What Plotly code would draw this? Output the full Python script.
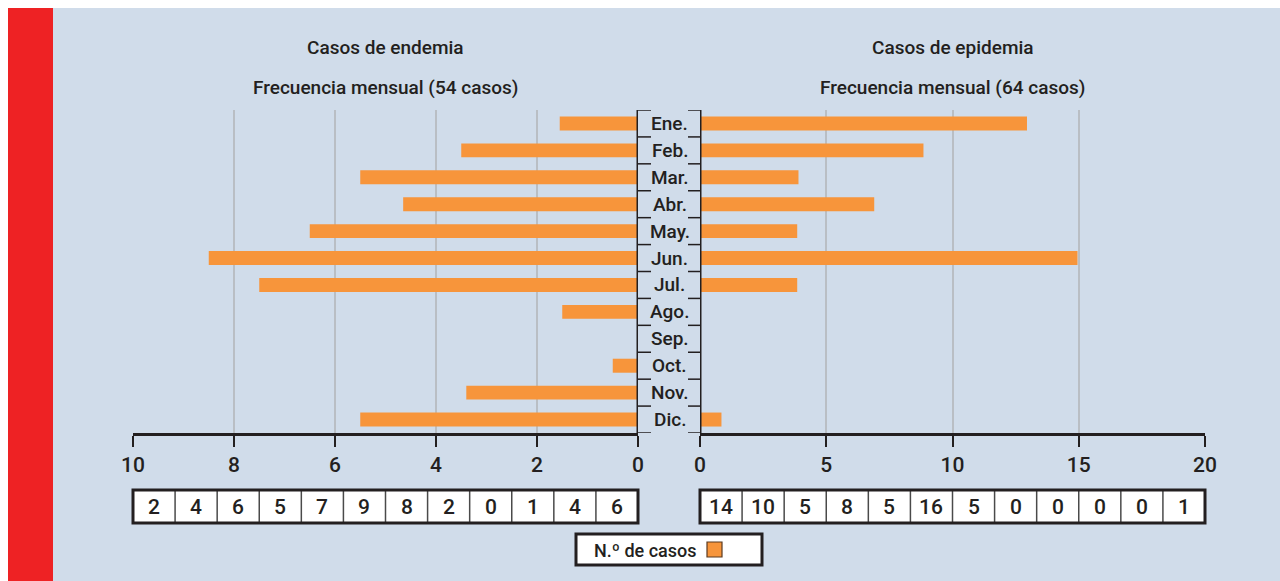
import plotly.graph_objects as go

months = ["Ene.", "Feb.", "Mar.", "Abr.", "May.", "Jun.", "Jul.", "Ago.", "Sep.", "Oct.", "Nov.", "Dic."]
endemia_bars = [1.55, 3.5, 5.5, 4.65, 6.5, 8.5, 7.5, 1.5, 0, 0.5, 3.4, 5.5]
epidemia_bars = [12.95, 8.85, 3.9, 6.9, 3.85, 14.95, 3.85, 0, 0, 0, 0, 0.85]
endemia_table = [2, 4, 6, 5, 7, 9, 8, 2, 0, 1, 4, 6]
epidemia_table = [14, 10, 5, 8, 5, 16, 5, 0, 0, 0, 0, 1]
left_ticks = [0, 2, 4, 6, 8, 10]
right_ticks = [0, 5, 10, 15, 20]
title_left = ["Casos de endemia", "Frecuencia mensual (54 casos)"]
title_right = ["Casos de epidemia", "Frecuencia mensual (64 casos)"]
legend_text = "N.º de casos"

W, H = 1280, 581
ORANGE = "#F7953B"
BG = "#D0DCEA"
RED = "#EE2224"
INK = "#231F20"
GRID = "#B9BEC4"
FONT = "Roboto, sans-serif"
FW = 500


def px(x):
    return x / W


def py(y):
    return 1 - y / H


def f(size):
    return dict(family=FONT, size=size, color=INK, weight=FW)


fig = go.Figure()
fig.add_trace(go.Bar(y=months, x=endemia_bars, orientation="h", marker=dict(color=ORANGE, line=dict(width=0)),
                     xaxis="x", yaxis="y", showlegend=False, hoverinfo="x+y"))
fig.add_trace(go.Bar(y=months, x=epidemia_bars, orientation="h", marker=dict(color=ORANGE, line=dict(width=0)),
                     xaxis="x2", yaxis="y2", showlegend=False, hoverinfo="x+y"))

ydom = [py(433), py(110)]
axis_common = dict(showline=True, linecolor=INK, linewidth=3, ticks="outside", ticklen=11, tickwidth=2,
                   tickcolor=INK, showgrid=True, gridcolor=GRID, gridwidth=1.5, zeroline=False,
                   tickfont=f(21), fixedrange=True, automargin=False)

shapes = [
    dict(type="rect", xref="paper", yref="paper", x0=px(53), x1=1, y0=0, y1=py(8), fillcolor=BG, line_width=0, layer="below"),
    dict(type="rect", xref="paper", yref="paper", x0=px(8), x1=px(53), y0=0, y1=py(8), fillcolor=RED, line_width=0, layer="below"),
]

# center vertical lines with ticks at row boundaries
for xr in ("x", "x2"):
    shapes.append(dict(type="line", xref=xr, yref="y", x0=0, x1=0, y0=-0.5, y1=len(months) - 0.5,
                       line=dict(color=INK, width=3)))
for k in range(len(months) + 1):
    yv = k - 0.5
    shapes.append(dict(type="line", xref="paper", yref="y", x0=px(638), x1=px(651), y0=yv, y1=yv,
                       line=dict(color=INK, width=1.5)))
    shapes.append(dict(type="line", xref="paper", yref="y", x0=px(688), x1=px(700), y0=yv, y1=yv,
                       line=dict(color=INK, width=1.5)))

annotations = []
for m in months:
    annotations.append(dict(xref="paper", yref="y", x=px(669.5), y=m, text=m, showarrow=False,
                            font=f(19), xanchor="center", yanchor="middle"))

# titles
for xr, lines in (("x domain", title_left), ("x2 domain", title_right)):
    for yy, t in zip((48, 87), lines):
        annotations.append(dict(xref=xr, yref="paper", x=0.5, y=py(yy), text=t, showarrow=False,
                                font=f(19), xanchor="center", yanchor="middle"))

# tables
t_y0, t_y1 = py(523), py(490)
for xr, vals in (("x domain", endemia_table), ("x2 domain", epidemia_table)):
    n = len(vals)
    shapes.append(dict(type="rect", xref=xr, yref="paper", x0=0, x1=1, y0=t_y0, y1=t_y1,
                       fillcolor="white", line=dict(width=0), layer="above"))
    for i in range(1, n):
        shapes.append(dict(type="line", xref=xr, yref="paper", x0=i / n, x1=i / n, y0=t_y0, y1=t_y1,
                           line=dict(color="#4A4A4A", width=1.5)))
    shapes.append(dict(type="rect", xref=xr, yref="paper", x0=0, x1=1, y0=t_y0, y1=t_y1,
                       fillcolor="rgba(0,0,0,0)", line=dict(color=INK, width=3)))
    for i, v in enumerate(vals):
        annotations.append(dict(xref=xr, yref="paper", x=(i + 0.5) / n, y=(t_y0 + t_y1) / 2, text=str(v),
                                showarrow=False, font=f(21), xanchor="center", yanchor="middle"))

# legend box
shapes.append(dict(type="rect", xref="paper", yref="paper", x0=px(576), x1=px(762), y0=py(565), y1=py(534),
                   fillcolor="white", line=dict(color=INK, width=3)))
shapes.append(dict(type="rect", xref="paper", yref="paper", x0=px(707), x1=px(722), y0=py(557), y1=py(542),
                   fillcolor=ORANGE, line=dict(color="#5A3A20", width=1.2)))
annotations.append(dict(xref="paper", yref="paper", x=px(699), y=py(550), text=legend_text, showarrow=False,
                        font=f(18), xanchor="right", yanchor="middle"))

fig.update_layout(
    width=W, height=H, margin=dict(l=0, r=0, t=0, b=0, pad=0, autoexpand=False),
    paper_bgcolor="white", plot_bgcolor="rgba(0,0,0,0)",
    showlegend=False,
    bargap=0.48,
    xaxis=dict(domain=[px(133), px(638)], range=[10, 0], tickvals=left_ticks, anchor="y", **axis_common),
    xaxis2=dict(domain=[px(700), px(1205)], range=[0, 20], tickvals=right_ticks, anchor="y2", **axis_common),
    yaxis=dict(domain=ydom, type="category", categoryorder="array", categoryarray=months,
               range=[len(months) - 0.5, -0.5], visible=False, fixedrange=True, automargin=False),
    yaxis2=dict(domain=ydom, type="category", categoryorder="array", categoryarray=months,
                range=[len(months) - 0.5, -0.5], visible=False, anchor="x2", fixedrange=True, automargin=False),
    shapes=shapes,
    annotations=annotations,
    font=dict(family=FONT, color=INK),
)

fig.write_html("out.html", config={"displayModeBar": False, "responsive": False},
               post_script="document.body.style.margin='0px';document.body.style.overflow='hidden';")
